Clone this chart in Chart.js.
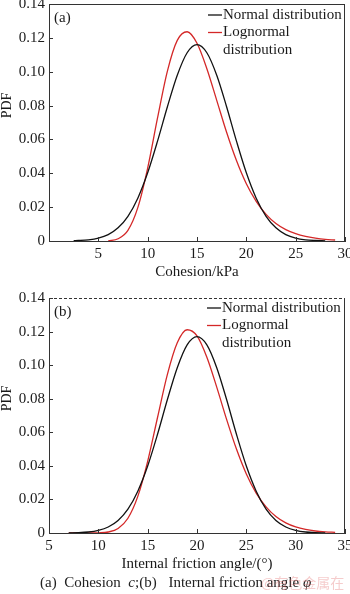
<!DOCTYPE html>
<html>
<head>
<meta charset="utf-8">
<script src="https://cdn.jsdelivr.net/npm/chart.js@4.4.1/dist/chart.umd.min.js"></script>
<style>
  body { margin: 0; background: #fff; width: 350px; height: 594px; position: relative; overflow: hidden; font-family: 'Liberation Serif', serif; }
  #chartA { position: absolute; left: 0; top: 0; }
  #chartB { position: absolute; left: 0; top: 285px; }
  #caption { position: absolute; left: 40px; top: 573px; font-size: 15px; line-height: 18px; color: #222; white-space: pre; }
  #caption .gap { margin-left: 8px; }
  #mark { position: absolute; left: 261px; top: 573px; font-size: 14px; line-height: 18px; color: rgba(225, 110, 110, 0.35); font-family: 'Noto Sans CJK SC', sans-serif; }
</style>
</head>
<body>
<canvas id="chartA" width="350" height="285"></canvas>
<canvas id="chartB" width="350" height="290"></canvas>
<div id="caption">(a)  Cohesion  <i>c</i>;(b)<span class="gap"> Internal friction angle <i>φ</i></span></div>
<div id="mark">@有色金属在线</div>
<script>
// (a) cohesion, kPa
const cohesionNormalX = [2.5, 3, 4, 5, 6, 7, 8, 9, 10, 11, 12, 13, 14, 15, 16, 17, 18, 19, 20, 21, 22, 23, 24, 25, 26, 27, 28];
const cohesionNormalPdf = [0.0002, 0.0003, 0.0007, 0.0017, 0.0038, 0.0078, 0.0146, 0.0253, 0.0403, 0.0590, 0.0793, 0.0979, 0.1112, 0.1160, 0.1112, 0.0979, 0.0793, 0.0590, 0.0403, 0.0253, 0.0146, 0.0078, 0.0038, 0.0017, 0.0007, 0.0003, 0.0001];
const cohesionLogX = [6, 7, 8, 9, 10, 11, 12, 13, 14, 15, 16, 17, 18, 19, 20, 21, 22, 23, 24, 25, 26, 27, 28, 29];
const cohesionLogPdf = [0.0001, 0.0013, 0.0063, 0.0197, 0.0431, 0.0727, 0.1004, 0.1185, 0.1236, 0.1168, 0.1018, 0.0831, 0.0642, 0.0475, 0.0338, 0.0234, 0.0157, 0.0103, 0.0067, 0.0043, 0.0027, 0.0017, 0.0010, 0.0006];

// (b) internal friction angle, degrees
const frictionNormalX = [7, 8, 9, 10, 11, 12, 13, 14, 15, 16, 17, 18, 19, 20, 21, 22, 23, 24, 25, 26, 27, 28, 29, 30, 31, 32, 33];
const frictionNormalPdf = [0.0001, 0.0002, 0.0006, 0.0016, 0.0036, 0.0075, 0.0142, 0.0249, 0.0399, 0.0588, 0.0795, 0.0985, 0.1121, 0.1170, 0.1121, 0.0985, 0.0795, 0.0588, 0.0399, 0.0249, 0.0142, 0.0075, 0.0036, 0.0016, 0.0006, 0.0002, 0.0001];
const frictionLogX = [7, 8, 9, 10, 11, 12, 13, 14, 15, 16, 17, 18, 19, 20, 21, 22, 23, 24, 25, 26, 27, 28, 29, 30, 31, 32, 33, 34];
const frictionLogPdf = [0, 0, 0, 0.0001, 0.0006, 0.0027, 0.0088, 0.0218, 0.0427, 0.0688, 0.0945, 0.1133, 0.1211, 0.1174, 0.1047, 0.0869, 0.0677, 0.0500, 0.0352, 0.0238, 0.0156, 0.0098, 0.0060, 0.0036, 0.0021, 0.0012, 0.0007, 0.0004];

const pdfTicks = [0, 0.02, 0.04, 0.06, 0.08, 0.10, 0.12, 0.14];
const cohesionTicks = [0, 5, 10, 15, 20, 25, 30];
const frictionTicks = [5, 10, 15, 20, 25, 30, 35];
const seriesNames = ['Normal distribution', 'Lognormal distribution'];

const axisColor = '#333';
const textColor = '#1a1a1a';
const normalColor = '#111';
const lognormalColor = '#d42828';
const FONT = '"Liberation Serif", "Times New Roman", serif';

function toPoints(xs, ys) {
    return xs.map((x, i) => ({ x: x, y: ys[i] }));
}

function wrapText(ctx, text, maxW) {
    const words = text.split(' ');
    const lines = [];
    let cur = '';
    words.forEach((w) => {
        const test = cur ? cur + ' ' + w : w;
        if (cur && ctx.measureText(test).width > maxW) {
            lines.push(cur);
            cur = w;
        } else {
            cur = test;
        }
    });
    lines.push(cur);
    return lines;
}

// inward ticks, box edges, panel tag, y title and legend
const framePlugin = {
    id: 'frame',
    afterDraw(chart, args, opts) {
        const { ctx, chartArea: a, scales } = chart;
        ctx.save();
        ctx.strokeStyle = axisColor;
        ctx.lineWidth = 1;
        ctx.beginPath();
        scales.x.ticks.forEach((t) => {
            const px = Math.round(scales.x.getPixelForValue(t.value)) + 0.5;
            ctx.moveTo(px, a.bottom);
            ctx.lineTo(px, a.bottom - 4);
        });
        scales.y.ticks.forEach((t) => {
            const py = Math.round(scales.y.getPixelForValue(t.value)) + 0.5;
            ctx.moveTo(a.left, py);
            ctx.lineTo(a.left + 4, py);
        });
        ctx.stroke();

        ctx.beginPath();
        ctx.moveTo(a.right - 0.5, a.top);
        ctx.lineTo(a.right - 0.5, a.bottom);
        ctx.stroke();
        if (opts.dashedTop) ctx.setLineDash([3, 2]);
        ctx.beginPath();
        ctx.moveTo(a.left, a.top + 0.5);
        ctx.lineTo(a.right, a.top + 0.5);
        ctx.stroke();
        ctx.setLineDash([]);

        ctx.fillStyle = textColor;
        ctx.font = '15px ' + FONT;
        ctx.textBaseline = 'middle';
        ctx.textAlign = 'left';
        ctx.fillText(opts.tag, a.left + 5, a.top + 14);

        ctx.save();
        ctx.font = '14px ' + FONT;
        ctx.textBaseline = 'alphabetic';
        ctx.translate(11, (a.top + a.bottom) / 2 - 17);
        ctx.rotate(-Math.PI / 2);
        ctx.textAlign = 'center';
        ctx.fillText('PDF', 0, 0);
        ctx.restore();

        // legend
        let y = a.top + opts.legendTop;
        chart.data.datasets.forEach((ds) => {
            ctx.strokeStyle = ds.borderColor;
            ctx.lineWidth = 1.3;
            ctx.beginPath();
            ctx.moveTo(opts.legendX - 15, y);
            ctx.lineTo(opts.legendX - 1, y);
            ctx.stroke();
            const lines = wrapText(ctx, ds.label, a.right - opts.legendX + 4);
            lines.forEach((ln) => {
                ctx.fillText(ln, opts.legendX, y);
                y += 17.5;
            });
        });
        ctx.restore();
    },
};

function makeChart(id, cfg) {
    const ctx = document.getElementById(id).getContext('2d');
    return new Chart(ctx, {
        type: 'line',
        data: {
            datasets: [
                {
                    label: seriesNames[0],
                    data: toPoints(cfg.normalX, cfg.normalPdf),
                    borderColor: normalColor,
                },
                {
                    label: seriesNames[1],
                    data: toPoints(cfg.logX, cfg.logPdf),
                    borderColor: lognormalColor,
                },
            ],
        },
        options: {
            responsive: false,
            animation: false,
            devicePixelRatio: 1,
            layout: { padding: { top: cfg.padTop, right: 5, left: 0, bottom: 0 } },
            elements: {
                line: { borderWidth: 1.3, cubicInterpolationMode: 'monotone', fill: false },
                point: { radius: 0 },
            },
            plugins: {
                legend: { display: false },
                tooltip: { enabled: false },
                frame: { tag: cfg.tag, dashedTop: cfg.dashedTop, legendX: cfg.legendX, legendTop: cfg.legendTop },
            },
            scales: {
                x: {
                    type: 'linear',
                    min: cfg.xTicks[0],
                    max: cfg.xTicks[cfg.xTicks.length - 1],
                    afterBuildTicks: (s) => { s.ticks = cfg.xTicks.map((v) => ({ value: v })); },
                    afterFit: (s) => {
                        s.height = cfg.xHeight;
                        s.paddingLeft = 0;
                        s.paddingRight = 0;
                    },
                    grid: { display: false, drawTicks: false, tickLength: 0 },
                    border: { color: axisColor, width: 1 },
                    ticks: {
                        color: textColor,
                        font: { family: FONT, size: 15 },
                        padding: 4,
                        maxRotation: 0,
                        callback: (v) => (cfg.hideZero && v === 0 ? '' : String(v)),
                    },
                    title: {
                        display: true,
                        text: cfg.xTitle,
                        color: textColor,
                        font: { family: FONT, size: 15 },
                        padding: { top: 0, bottom: cfg.titlePad },
                    },
                },
                y: {
                    min: 0,
                    max: 0.14,
                    afterBuildTicks: (s) => { s.ticks = pdfTicks.map((v) => ({ value: v })); },
                    afterFit: (s) => {
                        s.width = 49;
                        s.paddingTop = 0;
                        s.paddingBottom = 0;
                    },
                    grid: { display: false, drawTicks: false, tickLength: 0 },
                    border: { color: axisColor, width: 1 },
                    ticks: {
                        color: textColor,
                        font: { family: FONT, size: 15 },
                        padding: 4,
                        callback: (v) => (v === 0 ? '0' : v.toFixed(2)),
                    },
                },
            },
        },
        plugins: [framePlugin],
    });
}

makeChart('chartA', {
    normalX: cohesionNormalX, normalPdf: cohesionNormalPdf,
    logX: cohesionLogX, logPdf: cohesionLogPdf,
    xTicks: cohesionTicks, hideZero: true, xTitle: 'Cohesion/kPa',
    tag: '(a)', dashedTop: false, padTop: 4, xHeight: 44, titlePad: 4,
    legendX: 223, legendTop: 11,
});

makeChart('chartB', {
    normalX: frictionNormalX, normalPdf: frictionNormalPdf,
    logX: frictionLogX, logPdf: frictionLogPdf,
    xTicks: frictionTicks, hideZero: false, xTitle: 'Internal friction angle/(°)',
    tag: '(b)', dashedTop: true, padTop: 13, xHeight: 42, titlePad: 2,
    legendX: 222, legendTop: 10,
});
</script>
</body>
</html>
